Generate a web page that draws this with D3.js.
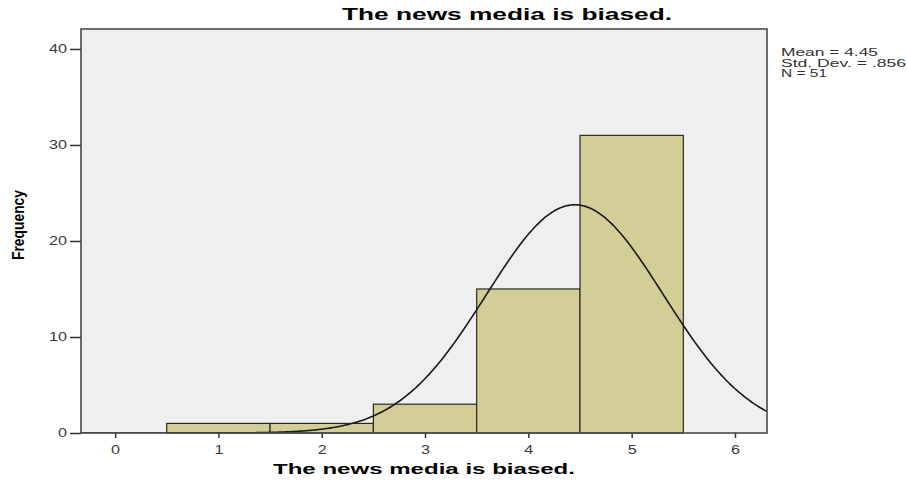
<!DOCTYPE html>
<html>
<head>
<meta charset="utf-8">
<script src="https://cdn.jsdelivr.net/npm/d3@7/dist/d3.min.js"></script>
<style>
  html, body { margin: 0; padding: 0; background: #fff; }
  svg { display: block; }
</style>
</head>
<body>
<svg id="chart" width="907" height="481"></svg>
<script>
// Histogram data: response value and count of respondents
const binCenters = [1, 2, 3, 4, 5];
const frequencies = [1, 1, 3, 15, 31];
const xTicks = [0, 1, 2, 3, 4, 5, 6];
const yTicks = [0, 10, 20, 30, 40];
const stats = { mean: 4.45, sd: 0.856, n: 51 };
const statLines = ["Mean = 4.45", "Std. Dev. = .856", "N = 51"];
const statWidths = [97, 125, 46];
const titleText = "The news media is biased.";

const svg = d3.select("#chart");
const plot = { left: 81, top: 29, right: 767, bottom: 433 };

const x = d3.scaleLinear().domain([-0.33, 6.31]).range([plot.left, plot.right]);
const y = d3.scaleLinear().domain([0, 42.08]).range([plot.bottom, plot.top]);

// plot background
svg.append("rect")
  .attr("x", plot.left).attr("y", plot.top)
  .attr("width", plot.right - plot.left).attr("height", plot.bottom - plot.top)
  .attr("fill", "#efefef");

// clip for marks inside the frame
svg.append("clipPath").attr("id", "plotClip")
  .append("rect")
  .attr("x", plot.left).attr("y", plot.top)
  .attr("width", plot.right - plot.left).attr("height", plot.bottom - plot.top);

// bars
svg.append("g").selectAll("rect")
  .data(binCenters.map((c, i) => ({ c, f: frequencies[i] })))
  .join("rect")
  .attr("x", d => x(d.c - 0.5))
  .attr("y", d => y(d.f))
  .attr("width", d => x(d.c + 0.5) - x(d.c - 0.5))
  .attr("height", d => y(0) - y(d.f))
  .attr("fill", "#d3ce98")
  .attr("stroke", "#2a2a20")
  .attr("stroke-width", 1.2);

// fitted normal curve scaled to counts (bin width 1)
const pts = d3.range(-0.33, 6.32, 0.02).map(v => {
  const z = (v - stats.mean) / stats.sd;
  return [v, stats.n * Math.exp(-0.5 * z * z) / (stats.sd * Math.sqrt(2 * Math.PI))];
});
svg.append("path")
  .datum(pts)
  .attr("clip-path", "url(#plotClip)")
  .attr("fill", "none")
  .attr("stroke", "#1a1a1a")
  .attr("stroke-width", 1.6)
  .attr("d", d3.line().x(d => x(d[0])).y(d => y(d[1])).curve(d3.curveBasis));

// frame
svg.append("rect")
  .attr("x", plot.left).attr("y", plot.top)
  .attr("width", plot.right - plot.left).attr("height", plot.bottom - plot.top)
  .attr("fill", "none")
  .attr("stroke", "#4a4a4a")
  .attr("stroke-width", 1.6);

// axes
const yAxis = svg.append("g")
  .attr("transform", `translate(${plot.left},0)`)
  .call(d3.axisLeft(y).tickValues(yTicks).tickFormat(d3.format("d")).tickSize(11).tickPadding(3));
const xAxis = svg.append("g")
  .attr("transform", `translate(0,${plot.bottom})`)
  .call(d3.axisBottom(x).tickValues(xTicks).tickFormat(d3.format("d")).tickSize(5).tickPadding(7));
[yAxis, xAxis].forEach(a => {
  a.select(".domain").remove();
  a.selectAll(".tick line").attr("stroke", "#333").attr("stroke-width", 1.5);
  a.selectAll(".tick text")
    .attr("fill", "#3a3a3a")
    .attr("textLength", d => String(d).length * 9)
    .attr("lengthAdjust", "spacingAndGlyphs")
    .style("font-family", "'Liberation Sans', Arial, sans-serif")
    .style("font-size", "12px");
});

// title
svg.append("text")
  .attr("x", 507).attr("y", 20)
  .attr("text-anchor", "middle")
  .attr("textLength", 330).attr("lengthAdjust", "spacingAndGlyphs")
  .style("font-family", "'Liberation Sans', Arial, sans-serif")
  .style("font-weight", "bold")
  .style("font-size", "17px")
  .attr("fill", "#000")
  .text(titleText);

// x-axis title
svg.append("text")
  .attr("x", 424).attr("y", 474)
  .attr("text-anchor", "middle")
  .attr("textLength", 302).attr("lengthAdjust", "spacingAndGlyphs")
  .style("font-family", "'Liberation Sans', Arial, sans-serif")
  .style("font-weight", "bold")
  .style("font-size", "15px")
  .attr("fill", "#000")
  .text(titleText);

// y-axis title
svg.append("text")
  .attr("transform", "translate(24,225) rotate(-90)")
  .attr("text-anchor", "middle")
  .attr("textLength", 70).attr("lengthAdjust", "spacingAndGlyphs")
  .style("font-family", "'Liberation Sans Narrow', 'Liberation Sans', Arial, sans-serif")
  .style("font-weight", "bold")
  .style("font-size", "17px")
  .attr("fill", "#000")
  .text("Frequency");

// summary statistics
svg.append("g").selectAll("text")
  .data(statLines)
  .join("text")
  .attr("x", 781)
  .attr("y", (d, i) => 56 + i * 10.5)
  .attr("textLength", (d, i) => statWidths[i])
  .attr("lengthAdjust", "spacingAndGlyphs")
  .style("font-family", "'Liberation Sans', Arial, sans-serif")
  .style("font-size", "10.5px")
  .attr("fill", "#333")
  .text(d => d);
</script>
</body>
</html>
